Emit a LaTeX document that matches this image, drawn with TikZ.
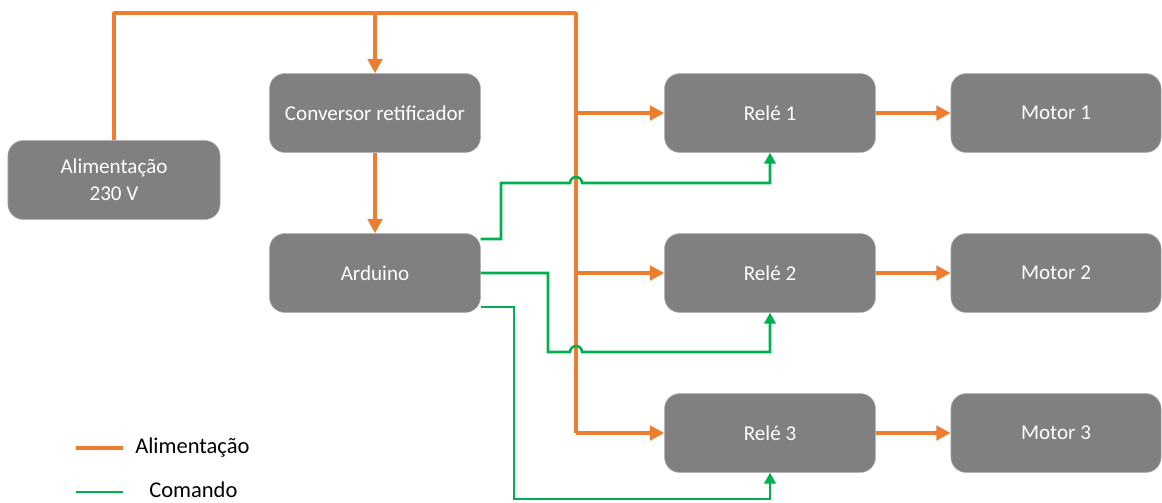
\documentclass[tikz,border=0pt]{standalone}
\usepackage{fontspec}
\setmainfont{Carlito}
\usepackage{xcolor}
\usetikzlibrary{calc}
\usetikzlibrary{positioning,arrows.meta}
\definecolor{laranja}{HTML}{ED7D31}
\definecolor{verde}{HTML}{00B050}
\definecolor{cinza}{HTML}{808080}

\begin{document}
\begin{tikzpicture}[x=0.025cm,y=-0.025cm,
bloco/.style={draw=cinza!70,fill=cinza,rounded corners=0.38cm,minimum width=5.27cm,
 minimum height=1.97cm,inner sep=0pt,text=white,font=\fontsize{15}{19}\selectfont,align=center},
power/.style={draw=laranja,line width=2.6pt},
cmd/.style={draw=verde,line width=1.8pt},
pseta/.style={-{Triangle[length=0.36cm,width=0.36cm]}},
cseta/.style={-{Triangle[length=0.27cm,width=0.28cm]}}]
\useasboundingbox (0,0) rectangle (1162,502);
% blocos
\node[bloco,minimum width=5.3cm] (alim) at (114,180) {Alimentação\\230 V};
\node[bloco] (conv) at (375,113) {Conversor retificador};
\node[bloco] (ard) at (375,273) {Arduino};
\node[bloco] (rele1) at (770,113) {Relé 1};
\node[bloco] (rele2) at (770,273) {Relé 2};
\node[bloco] (rele3) at (770,433) {Relé 3};
\node[bloco,minimum width=5.25cm] (mot1) at (1056,113) {Motor 1};
\node[bloco,minimum width=5.25cm] (mot2) at (1056,273) {Motor 2};
\node[bloco,minimum width=5.25cm] (mot3) at (1056,433) {Motor 3};
% alimentacao
\draw[power,line join=round] (alim.north) -- (114,13) -- (576,13) -- (576,433);
\draw[power,pseta] (375,13) -- (conv.north);
\draw[power,pseta] (conv.south) -- (ard.north);
\foreach \i in {1,2,3}{
\draw[power,pseta] (rele\i.west -| 576,0) -- (rele\i.west);
\draw[power,pseta] (rele\i.east) -- (mot\i.west);
}
% comando
\draw[cmd,cseta] (ard.east |- 0,239) -- (501,239) -- (501,183) -- (570,183)
arc[start angle=180,end angle=0,radius=0.15cm] -- (rele1.south |- 0,183) -- (rele1.south);
\draw[cmd,cseta] (ard.east) -- (548,273) -- (548,352) -- (570,352)
arc[start angle=180,end angle=0,radius=0.15cm] -- (rele2.south |- 0,352) -- (rele2.south);
\draw[cmd,cseta] (ard.east |- 0,307) -- (514,307) -- (514,499) -- (rele3.south |- 0,499) -- (rele3.south);
% legenda
\coordinate (la) at (76,448);
\coordinate (lb) at (123,448);
\coordinate (lc) at (76,492);
\coordinate (ld) at (123,492);
\draw[power] (la) -- (lb);
\draw[cmd] (lc) -- (ld);
\node[anchor=west,inner sep=0pt,font=\fontsize{16}{19}\selectfont] (lpower) at (135,448) {Alimentação};
\node[anchor=west,inner sep=0pt,font=\fontsize{16}{19}\selectfont] (lcmd) at (149,490) {Comando};
\end{tikzpicture}
\end{document}
